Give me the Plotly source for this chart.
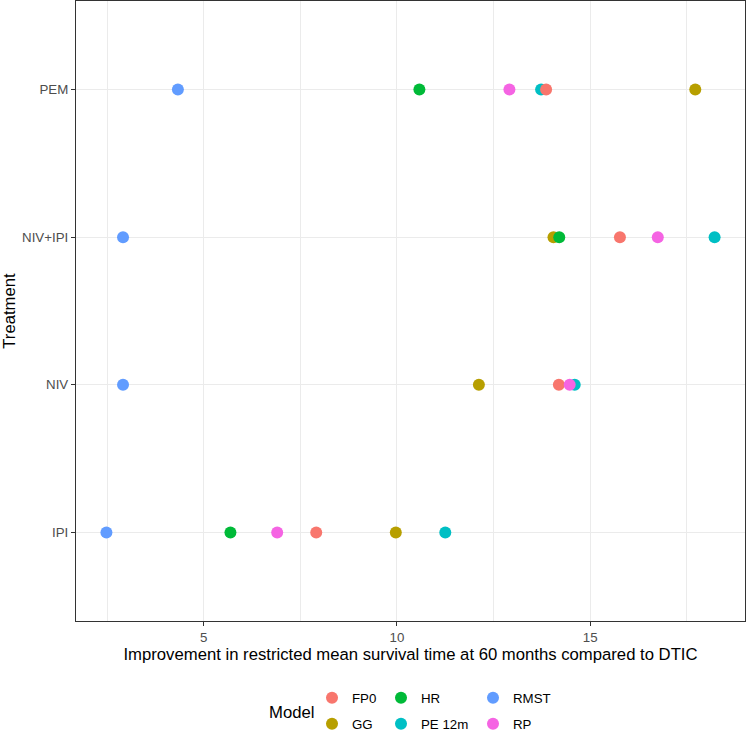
import plotly.graph_objects as go

categories = ["IPI", "NIV", "NIV+IPI", "PEM"]
models = ["FP0", "GG", "HR", "PE 12m", "RMST", "RP"]
fp0 = [7.91, 14.19, 15.77, 13.86]
gg = [9.97, 12.12, 14.05, 17.72]
hr = [5.69, None, 14.20, 10.58]
pe12m = [11.25, 14.60, 18.22, 13.73]
rmst = [2.48, 2.91, 2.91, 4.33]
rp = [6.90, 14.47, 16.75, 12.91]
x_tick_step = 5
x_minor_step = 2.5

values = {"FP0": fp0, "GG": gg, "HR": hr, "PE 12m": pe12m, "RMST": rmst, "RP": rp}
colors = {"FP0": "#F8766D", "GG": "#B79F00", "HR": "#00BA38",
          "PE 12m": "#00BFC4", "RMST": "#619CFF", "RP": "#F564E3"}
draw_order = ["PE 12m", "FP0", "GG", "HR", "RMST", "RP"]

W, H = 747, 731
ML, MR, MT, MB = 76, 2, 1, 110
PW, PH = W - ML - MR, H - MT - MB
FONT = "Liberation Sans, Arial, sans-serif"

# legend placement (column-major, 3 columns x 2 rows) in pixels
leg_pos = {"FP0": (312, 698), "GG": (312, 724), "HR": (381, 698),
           "PE 12m": (381, 724), "RMST": (473, 698), "RP": (473, 724)}

fig = go.Figure()
for m in draw_order:
    idx = models.index(m) + 1
    lname = "legend" if idx == 1 else f"legend{idx}"
    xs = [v for v in values[m] if v is not None]
    ys = [c for c, v in zip(categories, values[m]) if v is not None]
    fig.add_trace(go.Scatter(
        x=xs, y=ys, mode="markers", name=m,
        marker=dict(size=12, color=colors[m], line=dict(width=0)),
        legend=lname, showlegend=True))

allv = [v for m in models for v in values[m] if v is not None]
lo, hi = min(allv), max(allv)
pad = (hi - lo) * 0.05

layout_legends = {}
for idx, m in enumerate(models, start=1):
    lname = "legend" if idx == 1 else f"legend{idx}"
    px, py = leg_pos[m]
    layout_legends[lname] = dict(
        x=(px - ML) / PW, y=(H - MB - py) / PH,
        xanchor="left", yanchor="middle", bgcolor="rgba(0,0,0,0)",
        font=dict(family=FONT, size=13.3, color="#000000"),
        itemsizing="constant", borderwidth=0)

fig.update_layout(
    width=W, height=H,
    margin=dict(l=ML, r=MR, t=MT, b=MB, autoexpand=False),
    paper_bgcolor="white", plot_bgcolor="white",
    font=dict(family=FONT, color="#000000"),
    **layout_legends,
    annotations=[dict(text="Model", x=(291.5 - ML) / PW, y=(H - MB - 712) / PH,
                      xref="paper", yref="paper", showarrow=False,
                      xanchor="center", yanchor="middle",
                      font=dict(family=FONT, size=16.7, color="#000000"))],
)

fig.update_xaxes(
    range=[lo - pad, hi + pad], tickmode="linear", tick0=0, dtick=x_tick_step,
    showgrid=True, gridcolor="#EBEBEB", gridwidth=1.2,
    minor=dict(tick0=0, dtick=x_minor_step, showgrid=True, gridcolor="#EBEBEB", gridwidth=0.6),
    zeroline=False, showline=True, mirror=True, linecolor="#333333", linewidth=1.2,
    ticks="outside", ticklen=4, tickwidth=1.2, tickcolor="#333333",
    tickfont=dict(family=FONT, size=13.3, color="#4D4D4D"),
    title=dict(text="Improvement in restricted mean survival time at 60 months compared to DTIC",
               font=dict(family=FONT, size=16.7, color="#000000"), standoff=0),
    automargin=False)
fig.update_yaxes(
    type="category", categoryorder="array", categoryarray=categories,
    range=[-0.6, len(categories) - 0.4],
    showgrid=True, gridcolor="#EBEBEB", gridwidth=1.2,
    zeroline=False, showline=True, mirror=True, linecolor="#333333", linewidth=1.2,
    ticks="outside", ticklen=4, tickwidth=1.2, tickcolor="#333333",
    tickfont=dict(family=FONT, size=13.3, color="#4D4D4D"),
    title=dict(text="Treatment", font=dict(family=FONT, size=16.7, color="#000000"), standoff=6),
    automargin=False)

fig.write_html("out.html", config={"displayModeBar": False},
               post_script="document.body.style.margin='0';document.body.style.overflow='hidden';")
